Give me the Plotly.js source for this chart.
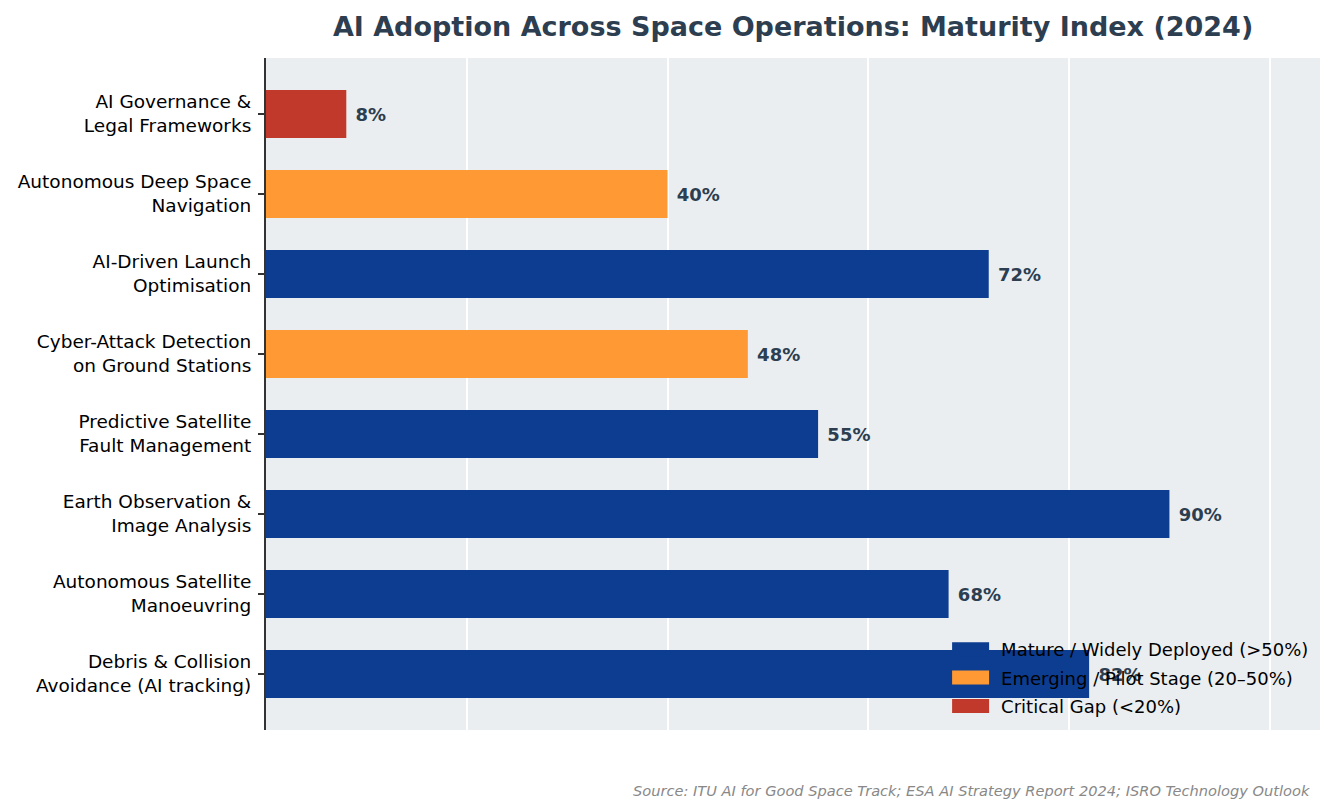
<!DOCTYPE html>
<html>
<head>
<meta charset="utf-8">
<script src="https://cdn.plot.ly/plotly-3.0.1.min.js"></script>
<style>html,body{margin:0;padding:0;background:#fff;}#chart{width:1334px;height:812px;}</style>
</head>
<body>
<div id="chart"></div>
<script>
// Categories listed bottom-to-top (as drawn on the y axis)
const categories = [
  "Debris & Collision<br>Avoidance (AI tracking)",
  "Autonomous Satellite<br>Manoeuvring",
  "Earth Observation &<br>Image Analysis",
  "Predictive Satellite<br>Fault Management",
  "Cyber-Attack Detection<br>on Ground Stations",
  "AI-Driven Launch<br>Optimisation",
  "Autonomous Deep Space<br>Navigation",
  "AI Governance &<br>Legal Frameworks"
];
const values = [82, 68, 90, 55, 48, 72, 40, 8];
const groupNames = ["Mature / Widely Deployed (>50%)", "Emerging / Pilot Stage (20–50%)", "Critical Gap (<20%)"];
const groupColors = ["#0d3d91", "#ff9933", "#c0392b"];

function groupOf(v) { return v > 50 ? 0 : (v >= 20 ? 1 : 2); }

const traces = groupNames.map((name, g) => {
  const ys = [], xs = [];
  categories.forEach((c, i) => { if (groupOf(values[i]) === g) { ys.push(c); xs.push(values[i]); } });
  return {
    type: "bar", orientation: "h", name: name, x: xs, y: ys, legendgroup: "g" + g,
    width: 0.6, marker: {color: groupColors[g], line: {width: 0}},
    texttemplate: "\u00a0%{x}%", textposition: "outside", cliponaxis: false, constraintext: "none",
    outsidetextfont: {family: "DejaVu Sans", size: 18, color: "#2c3e50", weight: "bold"},
    hoverinfo: "x+y"
  };
});

const annotations = [{
  xref: "paper", yref: "paper", x: 0.9924, y: -0.075, xanchor: "right", yanchor: "top",
  showarrow: false, text: "<i>Source: ITU AI for Good Space Track; ESA AI Strategy Report 2024; ISRO Technology Outlook</i>",
  font: {family: "DejaVu Sans", size: 14.6, color: "#888888"}
}];

const layout = {
  width: 1334, height: 812,
  margin: {l: 266, r: 14, t: 58, b: 82},
  paper_bgcolor: "#ffffff", plot_bgcolor: "#ebeef0",
  font: {family: "DejaVu Sans", color: "#000"},
  title: {text: "<b>AI Adoption Across Space Operations: Maturity Index (2024)</b>",
          font: {family: "DejaVu Sans", size: 27, color: "#2c3e50"},
          x: 0.5945, xanchor: "center", y: 0.967, yanchor: "middle"},
  barmode: "overlay",
  xaxis: {range: [0, 105], showticklabels: false, ticks: "", showgrid: true,
          gridcolor: "#ffffff", gridwidth: 2, dtick: 20, zeroline: false, showline: false, fixedrange: true},
  yaxis: {type: "category", categoryorder: "array", categoryarray: categories,
          range: [-0.7, 7.7], showgrid: false, zeroline: false,
          showline: true, linecolor: "#333333", linewidth: 2,
          ticks: "outside", ticklen: 6, tickwidth: 2, tickcolor: "#333333",
          tickfont: {family: "DejaVu Sans", size: 18.5, color: "#000"}, ticklabelstandoff: 3},
  legend: {x: 0.65, y: 0.0774, xanchor: "left", yanchor: "middle", bgcolor: "rgba(0,0,0,0)",
           font: {family: "DejaVu Sans", size: 18, color: "#000"}, traceorder: "grouped",
           itemwidth: 40, tracegroupgap: 2},
  showlegend: true,
  annotations: annotations
};

Plotly.newPlot("chart", traces, layout, {displayModeBar: false, staticPlot: true}).then(() => {
  document.querySelectorAll(".legend .legendpoints path").forEach(p => {
    p.setAttribute("d", "M-24,-7H13V7H-24Z");
  });
});
</script>
</body>
</html>
